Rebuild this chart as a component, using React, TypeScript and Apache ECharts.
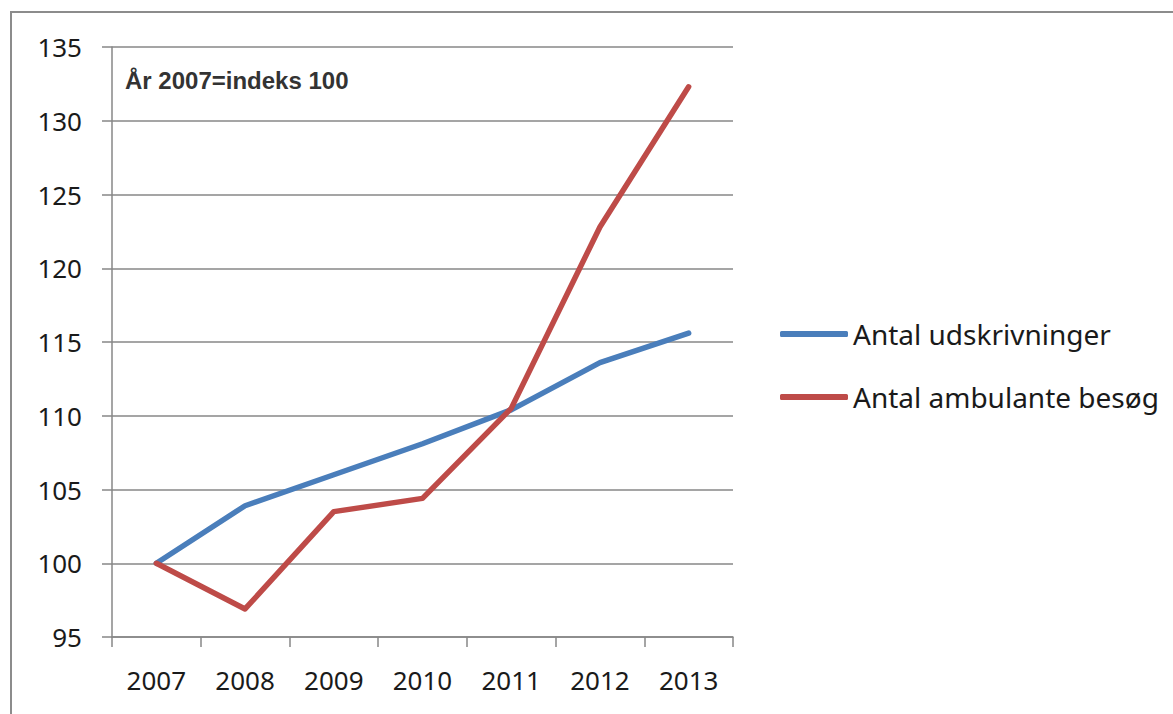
import React, { useEffect, useRef } from "react";
import * as echarts from "echarts";

const categories = ["2007", "2008", "2009", "2010", "2011", "2012", "2013"];
const udskrivninger = [100, 103.9, 106.0, 108.1, 110.4, 113.6, 115.6];
const ambulante = [100, 96.9, 103.5, 104.4, 110.5, 122.8, 132.3];
const seriesNames = ["Antal udskrivninger", "Antal ambulante besøg"];
const yMin = 95;
const yMax = 135;
const yStep = 5;
const note = "År 2007=indeks 100";

export default function App() {
  const ref = useRef<HTMLDivElement>(null);
  useEffect(() => {
    if (!ref.current) return;
    const chart = echarts.init(ref.current, undefined, { renderer: "svg" });
    const axisFont = "'Noto Sans', sans-serif";
    chart.setOption({
      animation: false,
      backgroundColor: "#ffffff",
      grid: { left: 112, right: 440, top: 47, bottom: 77, containLabel: false },
      graphic: [
        {
          type: "rect",
          shape: { x: 11, y: 12, width: 1200, height: 800 },
          style: { fill: "none", stroke: "#8c8c8c", lineWidth: 2 },
          silent: true,
        },
        {
          type: "text",
          x: 125,
          y: 80,
          style: {
            text: note,
            font: "bold 24px 'Liberation Sans', Arial, sans-serif",
            fill: "#333333",
            textVerticalAlign: "middle",
            verticalAlign: "middle",
          },
        },
      ],
      legend: {
        orient: "vertical",
        left: 780,
        top: 320,
        padding: 0,
        itemWidth: 68,
        itemHeight: 6,
        itemGap: 35,
        icon: "roundRect",
        data: seriesNames,
        textStyle: {
          fontFamily: axisFont,
          fontSize: 28,
          lineHeight: 28,
          color: "#1a1a1a",
        },
      },
      xAxis: {
        type: "category",
        data: categories,
        boundaryGap: true,
        axisLine: { show: true, lineStyle: { color: "#878787", width: 1.5 } },
        axisTick: { show: true, length: 10, lineStyle: { color: "#878787", width: 1.5 } },
        axisLabel: {
          fontFamily: axisFont,
          fontSize: 26,
          color: "#1a1a1a",
          margin: 30,
        },
        splitLine: { show: false },
      },
      yAxis: {
        type: "value",
        min: yMin,
        max: yMax,
        interval: yStep,
        axisLine: { show: true, lineStyle: { color: "#878787", width: 1.5 } },
        axisTick: { show: true, length: 10, lineStyle: { color: "#878787", width: 1.5 } },
        axisLabel: {
          fontFamily: axisFont,
          fontSize: 26,
          color: "#1a1a1a",
          margin: 30,
        },
        splitLine: { show: true, lineStyle: { color: "#878787", width: 1.5 } },
      },
      series: [
        {
          name: seriesNames[0],
          type: "line",
          data: udskrivninger,
          symbol: "none",
          lineStyle: { color: "#4a7ebb", width: 5.5, cap: "round", join: "round" },
          itemStyle: { color: "#4a7ebb" },
        },
        {
          name: seriesNames[1],
          type: "line",
          data: ambulante,
          symbol: "none",
          lineStyle: { color: "#be4b48", width: 5.5, cap: "round", join: "round" },
          itemStyle: { color: "#be4b48" },
        },
      ],
    });
    return () => chart.dispose();
  }, []);
  return (
    <div
      ref={ref}
      style={{ position: "absolute", left: 0, top: 0, width: 1173, height: 714 }}
    />
  );
}
